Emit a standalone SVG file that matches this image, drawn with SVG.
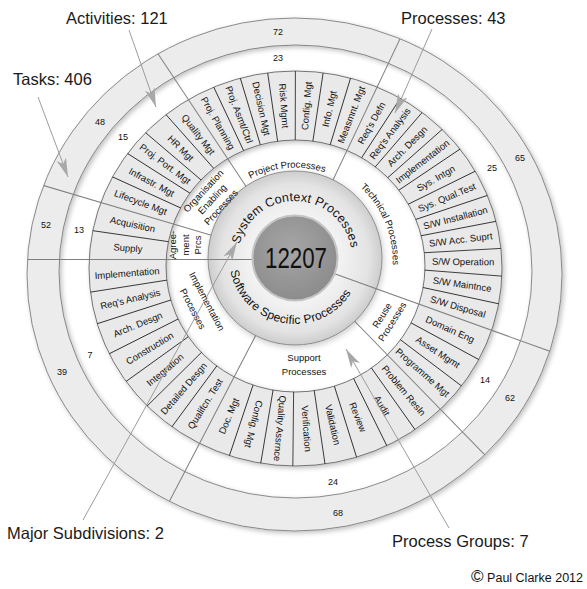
<svg xmlns="http://www.w3.org/2000/svg" width="587" height="589" viewBox="0 0 587 589">
<style>
text{font-family:"Liberation Sans",Arial,sans-serif;fill:#111}
.cell{font-size:9.5px;text-anchor:middle}
.grp{font-size:9.5px;text-anchor:middle}
.num{font-size:9px;text-anchor:middle}
.call{font-size:16.5px;fill:#1a1a1a}
.div{stroke:#1a1a1a;stroke-width:0.8}
.gl{stroke:#808080;stroke-width:1}
.co{stroke:#9c9c9c;stroke-width:1;fill:none;marker-end:url(#ah)}
</style>
<defs>
<filter id="sh" x="-10%" y="-10%" width="120%" height="120%">
<feGaussianBlur in="SourceAlpha" stdDeviation="2.5"/>
<feOffset dx="1.5" dy="2" result="b"/>
<feComponentTransfer><feFuncA type="linear" slope="0.25"/></feComponentTransfer>
<feMerge><feMergeNode/><feMergeNode in="SourceGraphic"/></feMerge>
</filter>
<filter id="sh2" x="-20%" y="-20%" width="140%" height="140%">
<feGaussianBlur in="SourceAlpha" stdDeviation="3"/>
<feOffset dx="1" dy="1.5" result="b"/>
<feComponentTransfer><feFuncA type="linear" slope="0.22"/></feComponentTransfer>
<feMerge><feMergeNode/><feMergeNode in="SourceGraphic"/></feMerge>
</filter>
<radialGradient id="gMid" cx="50%" cy="50%" r="50%">
<stop offset="0" stop-color="#ffffff"/>
<stop offset="0.55" stop-color="#f1f1f1"/>
<stop offset="0.85" stop-color="#e3e3e3"/>
<stop offset="1" stop-color="#cdcdcd"/>
</radialGradient>
<radialGradient id="gCore" cx="45%" cy="40%" r="60%">
<stop offset="0" stop-color="#a6a6a6"/>
<stop offset="1" stop-color="#8c8c8c"/>
</radialGradient>
<clipPath id="cpRing"><path clip-rule="evenodd" d="M89,268.5 A206.5,197.5 0 1 1 502,268.5 A206.5,197.5 0 1 1 89,268.5 Z M166,266 A129.5,126 0 1 0 425,266 A129.5,126 0 1 0 166,266 Z"/></clipPath>
<clipPath id="cpOuter"><ellipse cx="294.5" cy="274.5" rx="267.5" ry="256.5"/></clipPath>
<marker id="ah" markerWidth="22" markerHeight="12" refX="19" refY="6" orient="auto" markerUnits="userSpaceOnUse">
<path d="M0,1 L19,6 L0,11 L5,6 Z" fill="#a8a8a8"/>
</marker>
<path id="pProj" d="M200.4,268.3 A95,95 0 0 1 389.6,251.7" fill="none"/>
<path id="pTech" d="M256.6,167.7 A100,100 0 0 1 333.4,352.3" fill="none"/>
<path id="pSys" d="M238,256 A57,57 0 0 1 352,260" fill="none"/>
<path id="pSw" d="M230,246.5 A66,66 0 0 0 360,269.5" fill="none"/>
</defs>

<rect width="587" height="589" fill="#ffffff"/>

<g id="task-ring">
<path filter="url(#sh)" fill="#ececec" stroke="#707070" stroke-width="0.8" fill-rule="evenodd" d="M27,274.5 A267.5,256.5 0 1 1 562,274.5 A267.5,256.5 0 1 1 27,274.5 Z M59,271.5 A236.5,226.5 0 1 0 532,271.5 A236.5,226.5 0 1 0 59,271.5 Z"/>
</g>

<g id="process-ring">
<path filter="url(#sh)" fill="#e9e9e9" stroke="#555" stroke-width="0.8" fill-rule="evenodd" d="M89,268.5 A206.5,197.5 0 1 1 502,268.5 A206.5,197.5 0 1 1 89,268.5 Z M166,266 A129.5,126 0 1 0 425,266 A129.5,126 0 1 0 166,266 Z"/>
<g clip-path="url(#cpRing)"><g transform="translate(295,260)">
<line class="div" x2="260" transform="rotate(188.25)"/>
<line class="div" x2="260" transform="rotate(204.48)"/>
<line class="div" x2="260" transform="rotate(212.46)"/>
<line class="div" x2="260" transform="rotate(220.44)"/>
<line class="div" x2="260" transform="rotate(228.42)"/>
<line class="div" x2="260" transform="rotate(244.83)"/>
<line class="div" x2="260" transform="rotate(253.26)"/>
<line class="div" x2="260" transform="rotate(261.69)"/>
<line class="div" x2="260" transform="rotate(270.12)"/>
<line class="div" x2="260" transform="rotate(278.55)"/>
<line class="div" x2="260" transform="rotate(286.98)"/>
<line class="div" x2="260" transform="rotate(303.07)"/>
<line class="div" x2="260" transform="rotate(310.75)"/>
<line class="div" x2="260" transform="rotate(318.42)"/>
<line class="div" x2="260" transform="rotate(326.09)"/>
<line class="div" x2="260" transform="rotate(333.77)"/>
<line class="div" x2="260" transform="rotate(341.44)"/>
<line class="div" x2="260" transform="rotate(349.11)"/>
<line class="div" x2="260" transform="rotate(356.78)"/>
<line class="div" x2="260" transform="rotate(4.46)"/>
<line class="div" x2="260" transform="rotate(12.13)"/>
<line class="div" x2="260" transform="rotate(28.45)"/>
<line class="div" x2="260" transform="rotate(37.1)"/>
<line class="div" x2="260" transform="rotate(54.72)"/>
<line class="div" x2="260" transform="rotate(63.69)"/>
<line class="div" x2="260" transform="rotate(72.66)"/>
<line class="div" x2="260" transform="rotate(81.63)"/>
<line class="div" x2="260" transform="rotate(90.6)"/>
<line class="div" x2="260" transform="rotate(99.57)"/>
<line class="div" x2="260" transform="rotate(108.54)"/>
<line class="div" x2="260" transform="rotate(126.43)"/>
<line class="div" x2="260" transform="rotate(135.36)"/>
<line class="div" x2="260" transform="rotate(144.29)"/>
<line class="div" x2="260" transform="rotate(153.21)"/>
<line class="div" x2="260" transform="rotate(162.14)"/>
<line class="div" x2="260" transform="rotate(171.07)"/>
</g></g>
</g>

<g id="connectors">
<g id="group-lines" clip-path="url(#cpOuter)"><g transform="translate(295,260)">
<line class="gl" x2="320" transform="rotate(196.5)"/>
<line class="gl" x2="320" transform="rotate(236.4)"/>
<line class="gl" x2="320" transform="rotate(295.4)"/>
<line class="gl" x2="320" transform="rotate(45.75)"/>
<line class="gl" x2="320" transform="rotate(117.5)"/>
</g></g>
</g>

<g id="subdivision-ring">
<circle cx="295" cy="258" r="87" fill="url(#gMid)" stroke="#7a7a7a" stroke-width="0.8" filter="url(#sh2)"/>
</g>

<g id="major-lines" clip-path="url(#cpOuter)"><g transform="translate(295,259.5)">
<line class="gl" x2="320" transform="rotate(180)"/>
<line class="gl" x2="320" transform="rotate(19.8)"/>
</g></g>

<g id="core">
<circle cx="295" cy="258" r="42.5" fill="url(#gCore)" stroke="#c4c4c4" stroke-width="2"/>
<text x="296" y="268" font-family="'Liberation Sans Narrow','Liberation Sans',sans-serif" font-size="29" text-anchor="middle" textLength="62" lengthAdjust="spacingAndGlyphs">12207</text>
</g>

<g id="subdivision-labels">
<text font-size="12.5" letter-spacing="0.2"><textPath href="#pSys" startOffset="50%" text-anchor="middle">System Context Processes</textPath></text>
<text font-size="12" letter-spacing="0.2"><textPath href="#pSw" startOffset="50%" text-anchor="middle">Software Specific Processes</textPath></text>
</g>

<g id="group-labels">
<text class="grp"><textPath href="#pProj" startOffset="50%">Project Processes</textPath></text>
<text class="grp"><textPath href="#pTech" startOffset="50%">Technical Processes</textPath></text>
<text class="grp" transform="translate(387,318.5) rotate(-58)"><tspan x="0" y="-2.5">Reuse</tspan><tspan x="0" y="9.5">Processes</tspan></text>
<text class="grp" transform="translate(304,364)"><tspan x="0" y="-3.5">Support</tspan><tspan x="0" y="10.5">Processes</tspan></text>
<text class="grp" transform="translate(200,305) rotate(62)"><tspan x="0" y="-4.5">Implementation</tspan><tspan x="0" y="11.5">Processes</tspan></text>
<text class="grp" transform="translate(185,245) rotate(-90)"><tspan x="0" y="-9">Agree-</tspan><tspan x="0" y="3.5">ment</tspan><tspan x="0" y="16">Prcs</tspan></text>
<text class="grp" transform="translate(212,199) rotate(-47)"><tspan x="0" y="-8.5">Organisation</tspan><tspan x="0" y="3.5">Enabling</tspan><tspan x="0" y="15.5">Processes</tspan></text>
</g>

<g id="process-labels" transform="translate(295,260)">
<text class="cell" dy="0.35em" transform="rotate(184.1) translate(167.5,0) rotate(180)">Supply</text>
<text class="cell" dy="0.35em" transform="rotate(192.4) translate(166.2,0) rotate(180)">Acquisition</text>
<text class="cell" dy="0.35em" transform="rotate(200.5) translate(164.7,0) rotate(180)">Lifecycle Mgt</text>
<text class="cell" dy="0.35em" transform="rotate(208.5) translate(163.1,0) rotate(180)">Infrastr. Mgt</text>
<text class="cell" dy="0.35em" transform="rotate(216.5) translate(161.5,0) rotate(180)">Proj. Port. Mgt</text>
<text class="cell" dy="0.35em" transform="rotate(224.4) translate(159.9,0) rotate(180)">HR Mgt</text>
<text class="cell" dy="0.35em" transform="rotate(232.4) translate(158.3,0) rotate(180)">Quality Mgt</text>
<text class="cell" dy="0.35em" transform="rotate(240.6) translate(156.9,0) rotate(180)">Proj. Planning</text>
<text class="cell" dy="0.35em" transform="rotate(249.0) translate(155.8,0) rotate(180)">Proj. Asmt/Ctrl</text>
<text class="cell" dy="0.35em" transform="rotate(257.5) translate(155,0) rotate(180)">Decision Mgt</text>
<text class="cell" dy="0.35em" transform="rotate(265.9) translate(154.6,0) rotate(180)">Risk Mgmt</text>
<text class="cell" dy="0.35em" transform="rotate(274.3) translate(154.6,0)">Config. Mgt</text>
<text class="cell" dy="0.35em" transform="rotate(282.8) translate(155,0)">Info. Mgt</text>
<text class="cell" dy="0.35em" transform="rotate(291.2) translate(155.8,0)">Measmnt. Mgt</text>
<text class="cell" dy="0.35em" transform="rotate(299.2) translate(156.9,0)">Req's Defn</text>
<text class="cell" dy="0.35em" transform="rotate(306.9) translate(158.2,0)">Req's Analysis</text>
<text class="cell" dy="0.35em" transform="rotate(314.6) translate(159.7,0)">Arch. Desgn</text>
<text class="cell" dy="0.35em" transform="rotate(322.3) translate(161.2,0)">Implementation</text>
<text class="cell" dy="0.35em" transform="rotate(329.9) translate(162.8,0)">Sys. Intgn</text>
<text class="cell" dy="0.35em" transform="rotate(337.6) translate(164.3,0)">Sys. Qual.Test</text>
<text class="cell" dy="0.35em" transform="rotate(345.3) translate(165.8,0)">S/W Installation</text>
<text class="cell" dy="0.35em" transform="rotate(353.0) translate(167,0)">S/W Acc. Suprt</text>
<text class="cell" dy="0.35em" transform="rotate(0.6) translate(168.1,0)">S/W Operation</text>
<text class="cell" dy="0.35em" transform="rotate(8.3) translate(168.9,0)">S/W Maintnce</text>
<text class="cell" dy="0.35em" transform="rotate(16.0) translate(169.5,0)">S/W Disposal</text>
<text class="cell" dy="0.35em" transform="rotate(24.1) translate(169.9,0)">Domain Eng</text>
<text class="cell" dy="0.35em" transform="rotate(32.8) translate(170.1,0)">Asset Mgmt</text>
<text class="cell" dy="0.35em" transform="rotate(41.4) translate(170.1,0)">Programme Mgt</text>
<text class="cell" dy="0.35em" transform="rotate(50.2) translate(169.9,0)">Problem Resln</text>
<text class="cell" dy="0.35em" transform="rotate(59.2) translate(169.6,0)">Audit</text>
<text class="cell" dy="0.35em" transform="rotate(68.2) translate(169.3,0)">Review</text>
<text class="cell" dy="0.35em" transform="rotate(77.1) translate(169.1,0)">Validation</text>
<text class="cell" dy="0.35em" transform="rotate(86.1) translate(169,0)">Verification</text>
<text class="cell" dy="0.35em" transform="rotate(95.1) translate(169,0)">Quality Assrnce</text>
<text class="cell" dy="0.35em" transform="rotate(104.1) translate(169.1,0)">Config. Mgt</text>
<text class="cell" dy="0.35em" transform="rotate(113.0) translate(169.4,0) rotate(180)">Doc. Mgt</text>
<text class="cell" dy="0.35em" transform="rotate(122.0) translate(169.7,0) rotate(180)">Qualifcn. Test</text>
<text class="cell" dy="0.35em" transform="rotate(130.9) translate(169.9,0) rotate(180)">Detailed Desgn</text>
<text class="cell" dy="0.35em" transform="rotate(139.8) translate(170.1,0) rotate(180)">Integration</text>
<text class="cell" dy="0.35em" transform="rotate(148.7) translate(170.1,0) rotate(180)">Construction</text>
<text class="cell" dy="0.35em" transform="rotate(157.7) translate(169.9,0) rotate(180)">Arch. Desgn</text>
<text class="cell" dy="0.35em" transform="rotate(166.6) translate(169.3,0) rotate(180)">Req's Analysis</text>
<text class="cell" dy="0.35em" transform="rotate(175.5) translate(168.5,0) rotate(180)">Implementation</text>
</g>

<g id="counts">
<text class="num" x="278" y="35">72</text>
<text class="num" x="278" y="61">23</text>
<text class="num" x="520" y="161">65</text>
<text class="num" x="492" y="171">25</text>
<text class="num" x="510" y="401">62</text>
<text class="num" x="485" y="383">14</text>
<text class="num" x="338" y="516">68</text>
<text class="num" x="333" y="485">24</text>
<text class="num" x="62" y="375">39</text>
<text class="num" x="90" y="358">7</text>
<text class="num" x="46" y="228">52</text>
<text class="num" x="79" y="233">13</text>
<text class="num" x="100" y="125">48</text>
<text class="num" x="123" y="140">15</text>
</g>

<g id="callouts">
<path class="co" d="M38,97 L68,177"/>
<path class="co" d="M129,30 L156,107"/>
<path class="co" d="M432,29 L395,113"/>
<path class="co" d="M449,528 L346,349"/>
<path class="co" d="M83,520 L237,242"/>
<text class="call" x="13" y="85">Tasks: 406</text>
<text class="call" x="66" y="24">Activities: 121</text>
<text class="call" x="401" y="24">Processes: 43</text>
<text class="call" x="7" y="539">Major Subdivisions: 2</text>
<text class="call" x="392" y="547">Process Groups: 7</text>
<text x="583" y="582" text-anchor="end"><tspan font-size="17">©</tspan><tspan font-size="12.5"> Paul Clarke 2012</tspan></text>
</g>
</svg>
